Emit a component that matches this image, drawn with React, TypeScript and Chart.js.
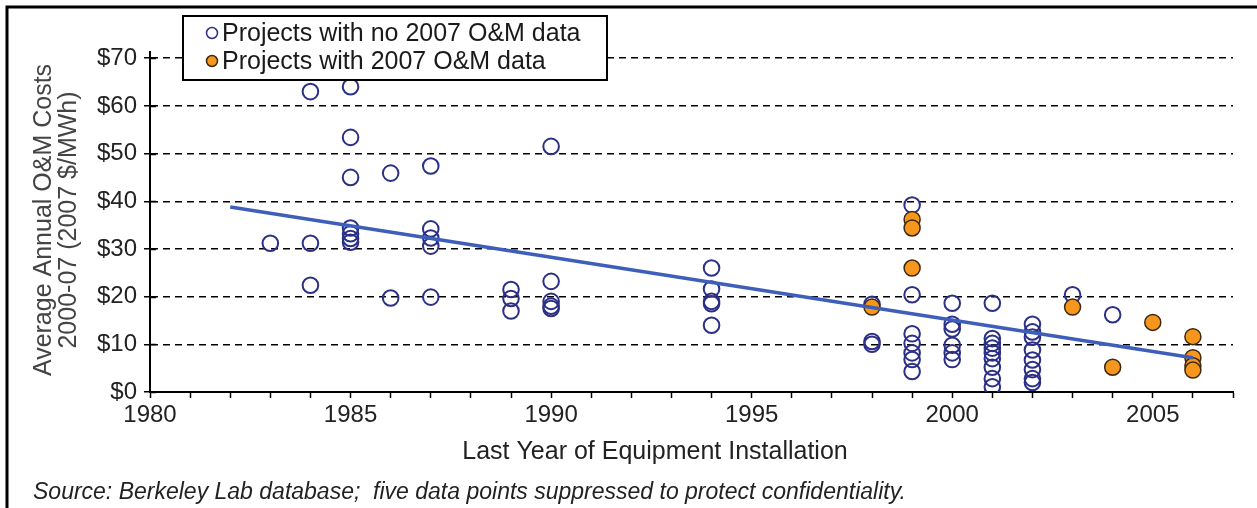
import React, { useEffect, useRef } from 'react';
import { Chart, registerables } from 'chart.js';

Chart.register(...registerables);

// ---------- data ----------
const noDataYears = [
  1983,
  1984, 1984, 1984,
  1985, 1985, 1985, 1985, 1985, 1985, 1985,
  1986, 1986,
  1987, 1987, 1987, 1987, 1987,
  1989, 1989, 1989,
  1990, 1990, 1990, 1990, 1990,
  1994, 1994, 1994, 1994, 1994,
  1998, 1998, 1998,
  1999, 1999, 1999, 1999, 1999, 1999, 1999,
  2000, 2000, 2000, 2000, 2000, 2000,
  2001, 2001, 2001, 2001, 2001, 2001, 2001, 2001, 2001,
  2002, 2002, 2002, 2002, 2002, 2002, 2002, 2002,
  2003,
  2004,
];
const noDataValues = [
  31.2,
  63, 31.2, 22.4,
  64, 53.4, 45, 34.4, 33.2, 32.2, 31.4,
  45.9, 19.7,
  47.4, 34.2, 32.3, 30.6, 19.9,
  21.5, 19.6, 17,
  51.5, 23.2, 19, 18, 17.5,
  26, 21.6, 19, 18.5, 14,
  18.4, 10.6, 10,
  39.2, 20.4, 12.2, 10.2, 8.2, 6.8, 4.3,
  18.6, 14.2, 13.2, 9.8, 8.2, 6.8,
  18.6, 11.2, 10.2, 9.2, 8.2, 7, 5.2, 2.8, 1.1,
  14.2, 12.6, 11.5, 8.8, 6.7, 4.7, 2.8, 2.0,
  20.4,
  16.2,
];

const withDataYears = [1998, 1999, 1999, 1999, 2003, 2004, 2005, 2006, 2006, 2006, 2006];
const withDataValues = [17.8, 36.2, 34.4, 26, 17.8, 5.2, 14.6, 11.6, 7.2, 5.5, 4.6];

const trendYears = [1982, 2006];
const trendValues = [38.8, 7.2];

const seriesLabels = ['Projects with no 2007 O&M data', 'Projects with 2007 O&M data'];
const xLabelYears = [1980, 1985, 1990, 1995, 2000, 2005];
const xTitle = 'Last Year of Equipment Installation';
const yTitleLines = ['Average Annual O&M Costs', '2000-07 (2007 $/MWh)'];
const sourceNote = 'Source: Berkeley Lab database;  five data points suppressed to protect confidentiality.';

// ---------- styles ----------
const FONT = '"Liberation Sans", Arial, Helvetica, sans-serif';
const NAVY = '#2b2f86';
const ORANGE = '#f7961c';
const ORANGE_EDGE = '#3b2a12';
const TREND = '#3d5fba';

const toPoints = (xs: number[], ys: number[]) => xs.map((x, i) => ({ x, y: ys[i] }));

const decorPlugin = {
  id: 'decor',
  afterDraw(chart: any) {
    const { ctx, chartArea, scales } = chart;
    ctx.save();

    // outer frame (left and top)
    ctx.strokeStyle = '#000';
    ctx.lineWidth = 3;
    ctx.beginPath();
    ctx.moveTo(7, 508);
    ctx.lineTo(7, 7);
    ctx.lineTo(1257, 7);
    ctx.stroke();

    // y ticks crossing into the plot
    const ys = scales.y;
    ctx.lineWidth = 1.5;
    ys.ticks.forEach((t: any) => {
      const py = Math.round(ys.getPixelForValue(t.value)) + 0.5;
      ctx.beginPath();
      ctx.moveTo(chartArea.left, py);
      ctx.lineTo(chartArea.left + 6, py);
      ctx.stroke();
    });

    // y title (two rotated lines)
    ctx.fillStyle = '#444';
    ctx.font = `25px ${FONT}`;
    ctx.textAlign = 'center';
    ctx.textBaseline = 'middle';
    const cy = 220;
    [44, 69].forEach((cx, i) => {
      ctx.save();
      ctx.translate(cx, cy);
      ctx.rotate(-Math.PI / 2);
      ctx.fillText(yTitleLines[i], 0, 0);
      ctx.restore();
    });

    // x title
    ctx.fillStyle = '#222';
    ctx.font = `25px ${FONT}`;
    ctx.fillText(xTitle, 655, 452);

    // source note
    ctx.font = `italic 23px ${FONT}`;
    ctx.textAlign = 'left';
    ctx.fillStyle = '#222';
    ctx.fillText(sourceNote, 33, 493);

    // legend box
    const bx = 183, by = 16, bw = 424, bh = 64;
    ctx.fillStyle = '#fff';
    ctx.fillRect(bx, by, bw, bh);
    ctx.strokeStyle = '#000';
    ctx.lineWidth = 2;
    ctx.strokeRect(bx, by, bw, bh);
    seriesLabels.forEach((label: string, i: number) => {
      const d = chart.data.datasets.find((ds: any) => ds.label === label);
      if (!d) return;
      const cyL = 33 + i * 28;
      ctx.beginPath();
      ctx.arc(212, cyL, 5.5, 0, Math.PI * 2);
      if (d.backgroundColor && d.backgroundColor !== 'transparent') {
        ctx.fillStyle = d.backgroundColor;
        ctx.fill();
      }
      ctx.lineWidth = 1.5;
      ctx.strokeStyle = d.borderColor;
      ctx.stroke();
      ctx.fillStyle = '#1a1a1a';
      ctx.font = `25px ${FONT}`;
      ctx.textAlign = 'left';
      ctx.textBaseline = 'middle';
      ctx.fillText(d.label, 222, cyL + 1);
    });

    ctx.restore();
  },
};

export default function App() {
  const canvasRef = useRef<HTMLCanvasElement | null>(null);

  useEffect(() => {
    if (!canvasRef.current) return;
    const chart = new Chart(canvasRef.current, {
      type: 'scatter',
      data: {
        datasets: [
          {
            type: 'line',
            label: 'Trend',
            data: toPoints(trendYears, trendValues),
            borderColor: TREND,
            borderWidth: 3.5,
            pointRadius: 0,
            showLine: true,
            fill: false,
            order: 0,
          } as any,
          {
            label: seriesLabels[1],
            data: toPoints(withDataYears, withDataValues),
            backgroundColor: ORANGE,
            borderColor: ORANGE_EDGE,
            borderWidth: 1.5,
            pointRadius: 8,
            order: 1,
          } as any,
          {
            label: seriesLabels[0],
            data: toPoints(noDataYears, noDataValues),
            backgroundColor: 'transparent',
            borderColor: NAVY,
            borderWidth: 2,
            pointRadius: 7.8,
            order: 2,
          } as any,
        ],
      },
      options: {
        responsive: false,
        animation: false,
        layout: { padding: { top: 52, right: 24, bottom: 0, left: 0 } },
        plugins: {
          legend: { display: false },
          tooltip: { enabled: false },
        },
        scales: {
          x: {
            type: 'linear',
            min: 1980,
            max: 2007,
            afterFit: (s: any) => { s.height = 116; },
            ticks: {
              stepSize: 1,
              autoSkip: false,
              includeBounds: false,
              maxRotation: 0,
              padding: 3,
              color: '#222',
              font: { family: FONT, size: 24 },
              callback: (v: any) => {
                const yr = Math.round(Number(v));
                return xLabelYears.includes(yr) ? String(yr) : '';
              },
            },
            grid: { drawOnChartArea: false, tickLength: 6, tickColor: '#000', tickWidth: 1.5 },
            border: { color: '#000', width: 2 },
          },
          y: {
            min: 0,
            max: 71.3,
            afterFit: (s: any) => { s.width = 150; },
            ticks: {
              stepSize: 10,
              includeBounds: false,
              padding: 7,
              color: '#222',
              font: { family: FONT, size: 24 },
              callback: (v: any) => '$' + Math.round(Number(v)),
            },
            grid: { color: '#000', lineWidth: 1.5, tickLength: 6, tickColor: '#000', tickWidth: 1.5 },
            border: { color: '#000', width: 2, dash: [7, 5] },
          },
        },
      },
      plugins: [decorPlugin],
    } as any);
    return () => chart.destroy();
  }, []);

  return (
    <div style={{ position: 'absolute', left: 0, top: 0, width: 1257, height: 508, background: '#fff' }}>
      <canvas ref={canvasRef} width={1257} height={508} style={{ display: 'block' }} />
    </div>
  );
}
